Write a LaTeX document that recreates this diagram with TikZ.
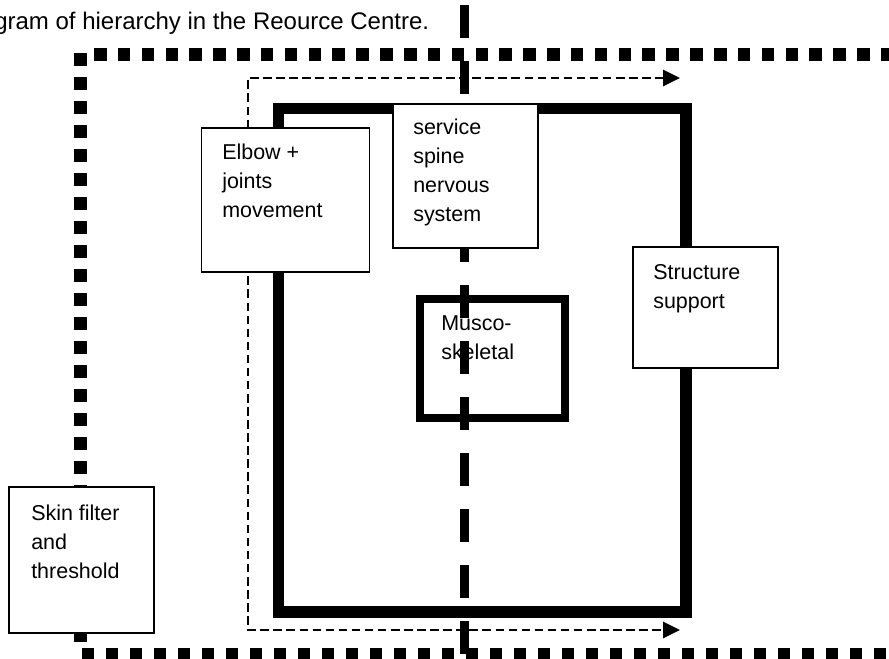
\documentclass[tikz,border=0pt]{standalone}
\usepackage{fontspec}
\setmainfont{Liberation Sans}
\usetikzlibrary{arrows.meta}
\newcommand{\boxlines}[1]{\begin{tabular}[t]{@{}l@{}}#1\end{tabular}}
\begin{document}
\begin{tikzpicture}[x=0.75pt,y=-0.75pt,
  sqdot/.style={line width=9.75pt, line cap=butt},
  wbox/.style={draw, fill=white, line width=1.2pt, inner sep=0pt, anchor=north west},
  txt/.style={anchor=base west, inner sep=0pt, font=\fontsize{16.1pt}{21.75pt}\selectfont},
  thinarrow/.style={line width=2.1pt, dash pattern=on 6.4pt off 3.4pt,
    {Triangle[length=12.75pt,width=12pt]}-{Triangle[length=12.75pt,width=12pt]}},
  bigdash/.style={line width=6.75pt, dash pattern=on 24.75pt off 17.25pt}]
\useasboundingbox (0,0) rectangle (889,659);
\fill[white] (0,0) rectangle (889,659);
\clip (0,0) rectangle (889,659);

% title
\node[anchor=base west, inner sep=0pt, font=\fontsize{18pt}{21.6pt}\selectfont] (title) at (-6,30)
  {gram of hierarchy in the Reource Centre.};

% outer dotted frame
\coordinate (tl) at (80.5,53);
\coordinate (trow) at (94,55);
\coordinate (tend) at (900,55);
\coordinate (lbot) at (80.5,643);
\coordinate (brow) at (82,654);
\coordinate (bend) at (900,654);
\draw[sqdot, dash pattern=on 9.375pt off 8.51pt] (trow) -- (tend);
\draw[sqdot, dash pattern=on 9.75pt off 8.25pt] (tl) -- (lbot);
\draw[sqdot, line width=9pt, dash pattern=on 9pt off 9pt] (brow) -- (bend);

% thick solid frame
\node[draw, line width=8.6pt, inner sep=0pt, anchor=north west,
  minimum width=305.6pt, minimum height=377.6pt] (frame) at (272.75,102.75) {};

% thin dashed arrows
\coordinate (atop) at (680,78);
\coordinate (ctop) at (248,78);
\coordinate (cbot) at (248,630);
\coordinate (abot) at (680,630);
\draw[thinarrow] (atop) -- (ctop) -- (cbot) -- (abot);

% musco-skeletal box
\node[draw, line width=6.2pt, inner sep=0pt, anchor=north west,
  minimum width=108.45pt, minimum height=88.95pt] (musco) at (416.2,295.2) {};
\node[txt] (muscot) at (441,330) {\boxlines{Musco-\\skeletal}};

% thick dashed vertical
\coordinate (vtop) at (464.5,5);
\coordinate (vbot) at (464.5,662);
\draw[bigdash] (vtop) -- (vbot);

% boxes
\node[wbox, minimum width=126pt, minimum height=108pt] (elbow) at (200.5,127) {};
\node[txt] (elbowt) at (222,160) {\boxlines{Elbow +\\joints\\movement}};

\node[wbox, minimum width=108.75pt, minimum height=108pt] (service) at (392,103) {};
\node[txt] (servicet) at (413,135) {\boxlines{service\\spine\\nervous\\system}};

\node[wbox, minimum width=108.75pt, minimum height=90.75pt] (struct) at (632,246) {};
\node[txt] (structt) at (653,280) {\boxlines{Structure\\support}};

\node[wbox, minimum width=108.75pt, minimum height=109.5pt] (skin) at (8,486) {};
\node[txt] (skint) at (31,520) {\boxlines{Skin filter\\and\\threshold}};
\end{tikzpicture}
\end{document}
